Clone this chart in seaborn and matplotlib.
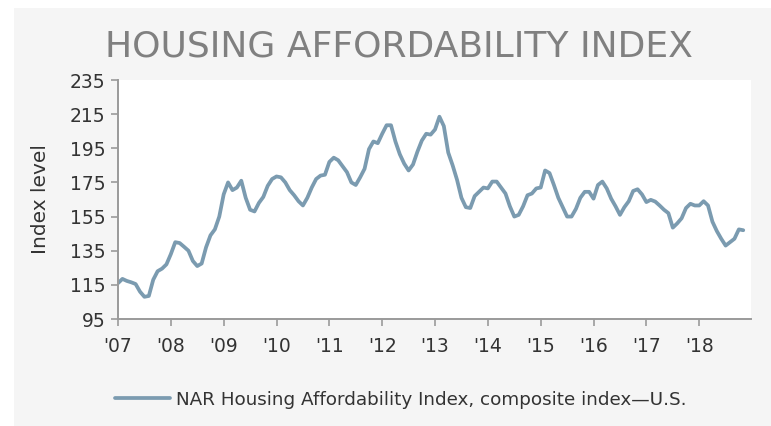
import numpy as np
import pandas as pd
import seaborn as sns
import matplotlib.pyplot as plt
from matplotlib.patches import Rectangle

# ── data: monthly index, Jan 2007 – Nov 2018 ─────────────
hai = [
    116, 118.5, 117.3, 116.5, 115.5, 111, 108, 108.5, 118, 123, 124.5, 127,          # 2007
    133, 140, 139.5, 137.3, 135, 129, 126, 127.5, 137, 144, 147.5, 155,               # 2008
    168, 175, 170.5, 172, 176, 166, 159, 158, 163, 166.5, 173, 177,                   # 2009
    178.5, 178, 175, 170.5, 167.5, 164, 161.5, 166, 172, 177, 179, 179.5,             # 2010
    187, 189.5, 188, 184.5, 181, 175, 173.5, 178, 183, 194.5, 199, 198,               # 2011
    203.5, 208.5, 208.5, 199, 191.5, 186, 182, 185.5, 193, 199.5, 203.5, 203,         # 2012
    206, 213.5, 208, 192.5, 185, 176.5, 166, 160.5, 160, 167, 169.5, 172,             # 2013
    171.5, 175.5, 175.5, 172, 168.5, 161, 155, 156, 161, 167.5, 168.5, 171.5,         # 2014
    172, 182, 180.5, 173.5, 166, 160.5, 155, 155, 159.5, 166, 169.5, 169.5,           # 2015
    165.5, 173.5, 175.5, 171.5, 165.5, 161, 156, 160.5, 164, 170, 171, 168,           # 2016
    163.5, 164.8, 163.8, 161.5, 159, 157, 148.5, 151, 154, 160, 162.5, 161.5,         # 2017
    161.5, 164, 161.5, 152, 146.5, 142, 138, 140, 142, 147.5, 147,                    # 2018
]
years = list(range(2007, 2019))
year_labels = ["'07", "'08", "'09", "'10", "'11", "'12", "'13", "'14", "'15", "'16", "'17", "'18"]
y_ticks = [95, 115, 135, 155, 175, 195, 215, 235]
series_name = "NAR Housing Affordability Index, composite index\u2014U.S."

df = pd.DataFrame({"t": 2007 + np.arange(len(hai)) / 12, "hai": hai})

# ── style ────────────────────────────────────────────────
sns.set_theme(style="white")
plt.rcParams["font.family"] = ["DejaVu Sans"]
LINE = "#7b9bb0"
GRID = "#9a9a9a"
TXT = "#333333"

fig = plt.figure(figsize=(7.71, 4.26), dpi=100)
fig.patch.set_facecolor("white")
# gray panel behind everything
fig.patches.append(Rectangle((14 / 771, 0), 1, 1 - 8 / 426, transform=fig.transFigure,
                             facecolor="#f5f5f5", edgecolor="none", zorder=-10))

ax = fig.add_axes([118 / 771, 1 - 319 / 426, (751 - 118) / 771, (319 - 80) / 426])
ax.set_facecolor("white")

sns.lineplot(data=df, x="t", y="hai", ax=ax, color=LINE, linewidth=2.7,
             label=series_name, legend=False)

ax.set_xlim(2007, 2018.98)
ax.set_ylim(95, 235)
ax.set_xticks(years)
ax.set_xticklabels(year_labels)
ax.set_yticks(y_ticks)
ax.tick_params(axis="both", which="major", length=5, width=1.2, color=GRID,
               labelsize=13.5, labelcolor=TXT, direction="out",
               bottom=True, left=True)
ax.tick_params(axis="x", pad=8)
ax.tick_params(axis="y", pad=4)
for s in ["top", "right"]:
    ax.spines[s].set_visible(False)
for s in ["left", "bottom"]:
    ax.spines[s].set_color(GRID)
    ax.spines[s].set_linewidth(1.4)

ax.set_xlabel("")
ax.set_ylabel("Index level", fontsize=14.5, color=TXT, labelpad=14)

fig.text(0.518, 0.892, "HOUSING AFFORDABILITY INDEX", ha="center", va="center",
         fontsize=26, color="#808080")

handles, labels = ax.get_legend_handles_labels()
fig.legend(handles, labels, loc="center", bbox_to_anchor=(0.52, 0.062), frameon=False,
           fontsize=13.2, labelcolor=TXT, handlelength=3.0, handletextpad=0.3)

fig.savefig("out.png", dpi=100, facecolor=fig.get_facecolor())
